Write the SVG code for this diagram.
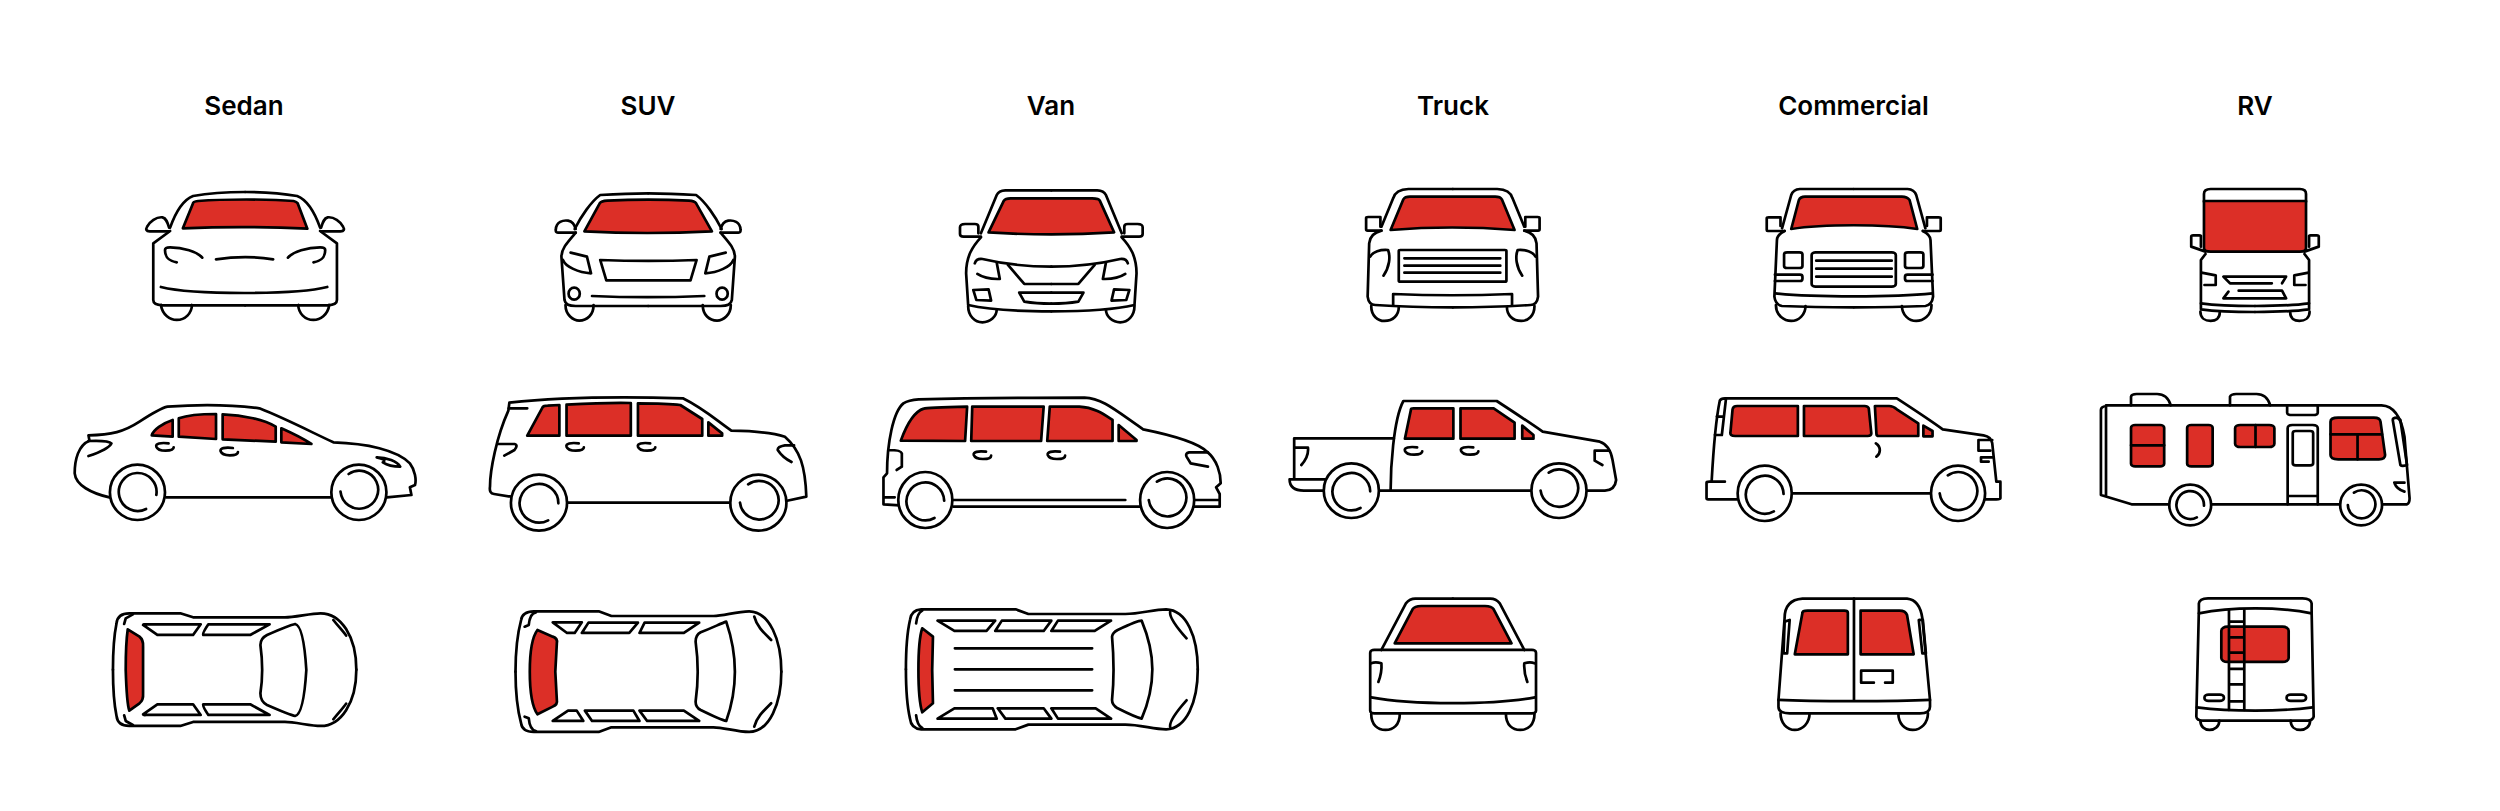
<svg xmlns="http://www.w3.org/2000/svg" width="2500" height="811" viewBox="0 0 2500 811">
<style>
text{font-family:Inter,"Liberation Sans",sans-serif;font-weight:600;font-size:26px;fill:#000;text-anchor:middle}
path,ellipse,rect,line{fill:none;stroke:#000;stroke-width:2.7;stroke-linejoin:round;stroke-linecap:round;vector-effect:non-scaling-stroke}
.r{fill:#dc2f27}
.w{fill:#fff}
</style>
<defs>
<path id="h" d="M24,0 C8,-3 -2,1 0,10 C2,18 8,22 18,22 C26,22 34,20 34,12"/>
</defs>
<rect x="0" y="0" width="2500" height="811" style="fill:#fff;stroke:none"/>
<g id="labels">
<text x="244" y="115">Sedan</text><text x="648" y="115">SUV</text><text x="1051" y="115">Van</text><text x="1453" y="115">Truck</text><text x="1853.500" y="115">Commercial</text><text x="2255" y="115">RV</text>
</g>

<g id="sedan-front" transform="translate(40,70) scale(.5102,.3333)">
<g id="sf"><path d="M237,705 C240,735 255,750 268,750 C285,750 297,730 298,705"/><path d="M255,483 L222,520 V690 Q222,705 240,706 H402"/><path d="M255,473 C265,430 280,390 300,378 C340,367 380,366 402,366"/><path d="M253,484 H215 Q205,483 210,470 C215,455 228,440 240,442 C248,445 250,458 253,473"/><path d="M268,577 C250,572 245,560 245,540 Q245,532 255,532 C280,532 308,545 318,563"/></g>
<use href="#sf" transform="matrix(-1 0 0 1 804 0)"/>
<path class="r" d="M280,475 L300,400 Q300,395 310,393 C360,387 450,387 497,393 Q503,395 505,400 L524,476 C440,470 360,470 280,475Z"/>
<path d="M345,568 C380,560 425,560 457,568M237,651 C300,675 500,675 563,651"/>
</g>

<g id="suv-front" transform="translate(40,70) scale(.5102,.3333)">
<g id="uf"><path d="M1030,705 C1030,735 1045,752 1057,752 C1072,752 1085,735 1085,705"/><path d="M1050,488 C1035,515 1022,535 1022,560 L1028,690 Q1030,708 1050,708 H1192"/><path d="M1048,477 C1060,440 1080,395 1098,375 C1150,370 1192,370 1192,370"/><path d="M1050,488 H1015 Q1010,488 1011,478 C1012,455 1025,450 1035,452 C1045,455 1048,465 1050,477"/><path d="M1040,548 L1072,560 L1080,610 C1055,608 1030,590 1025,570"/><ellipse cx="1047" cy="671" rx="11" ry="18"/></g>
<use href="#uf" transform="matrix(-1 0 0 1 2384 0)"/>
<path class="r" d="M1067,484 L1097,400 Q1100,393 1112,392 C1160,388 1225,388 1272,392 Q1283,393 1286,400 L1317,484 C1240,490 1140,490 1067,484Z"/>
<path d="M1098,570 C1150,573 1235,573 1287,570 L1275,631 H1110ZM1082,678 C1140,682 1240,682 1302,678"/>
</g>

<g id="van-front" transform="translate(860,70) scale(.5102,.3333)">
<g id="vf"><path d="M212,708 C212,738 225,757 240,757 C255,757 268,740 268,718"/><path d="M237,502 C220,530 208,560 208,610 L212,705 C260,722 320,724 375,724"/><path d="M237,490 L268,375 Q272,362 285,361 H375"/><path d="M237,500 H203 Q196,500 196,492 V472 Q196,462 206,462 H225 Q232,462 232,470 V490"/><path d="M225,580 Q228,565 240,567 C290,585 340,590 375,590"/><path d="M230,612 C240,622 255,628 274,627 L268,578"/><path d="M290,585 L322,642 H375"/><path d="M222,660 L252,658 L257,692 L228,690Z"/><path d="M375,668 H312 L322,695 C345,701 375,701 375,701"/></g>
<use href="#vf" transform="matrix(-1 0 0 1 750 0)"/>
<path class="r" d="M252,487 L282,392 Q285,385 295,385 H455 Q468,385 470,392 L498,487 C420,495 330,495 252,487Z"/>
</g>

<g id="truck-front" transform="translate(860,70) scale(.5102,.3333)">
<g id="tf"><path d="M1002,708 C1002,738 1015,753 1028,753 C1045,753 1056,735 1056,712"/><path d="M1022,482 Q1000,490 998,520 L995,680 Q997,705 1010,705 C1080,712 1162,712 1162,712"/><path d="M1022,470 L1045,385 Q1050,358 1075,357 H1162"/><path d="M1022,482 H995 Q992,482 992,478 V444 Q992,441 996,441 H1020 V470"/><path d="M1026,617 C1038,590 1040,560 1035,540 C1020,538 1005,545 1000,560"/></g>
<use href="#tf" transform="matrix(-1 0 0 1 2324 0)"/>
<path class="r" d="M1040,480 L1065,388 Q1068,380 1078,380 H1245 Q1255,380 1258,388 L1283,480 C1200,470 1120,470 1040,480Z"/>
<rect x="1056" y="540" width="211" height="95" rx="3"/>
<path d="M1067,565 H1255M1067,587 H1255M1067,608 H1255M1045,705 V672 C1120,677 1200,677 1278,672 V705"/>
</g>

<g id="commercial-front" transform="translate(1680,70) scale(.5102,.3333)">
<g id="cf"><path d="M188,705 C188,738 205,753 218,753 C232,753 246,735 246,708"/><path d="M205,483 Q190,495 190,510 L185,680 Q187,705 200,708 C260,712 340,712 340,712"/><path d="M200,475 L218,375 Q222,358 235,357 H340"/><path d="M205,483 H172 Q170,483 170,480 V445 Q170,442 174,442 H197 V468"/><rect x="204" y="547" width="36" height="47" rx="6"/><path d="M186,614 H235 Q240,614 240,620 V626 Q240,633 235,633 H186"/></g>
<use href="#cf" transform="matrix(-1 0 0 1 681 0)"/>
<path class="r" d="M218,477 L233,390 Q236,380 245,380 H435 Q445,380 450,390 L465,477 C400,462 280,462 218,477Z"/>
<rect x="258" y="547" width="165" height="103" rx="8"/>
<path d="M267,572 H415M267,596 H415M267,620 H415M187,670 C260,682 420,682 495,670"/>
</g>

<g id="rv-front" transform="translate(1680,70) scale(.5102,.3333)">
<g id="rf"><path d="M1020,725 C1020,745 1030,753 1040,753 C1050,753 1058,745 1058,727"/><path d="M1030,545 L1002,530 V500 Q1002,496 1006,496 H1018 Q1022,496 1021,500 V530"/><path d="M1030,552 L1021,570 V718 C1060,726 1127,726 1127,726"/><path d="M1021,700 C1060,708 1127,708 1127,708"/><path d="M1022,608 L1050,616 V645 H1028"/></g>
<use href="#rf" transform="matrix(-1 0 0 1 2254 0)"/>
<path d="M1027,395 V372 Q1027,357 1040,357 H1215 Q1227,357 1227,372 V395"/>
<path class="r" d="M1027,393 H1227 V535 Q1227,545 1215,545 H1040 Q1027,545 1027,535Z"/>
<path d="M1160,640 H1078 L1065,620 H1188 L1180,640M1095,662 H1180 L1188,685 H1065 L1075,665"/>
</g>

<g id="sedan-side" transform="translate(40,370) scale(.5102,.3333)">
<path d="M138,383 C100,370 70,345 68,310 C68,270 75,225 97,212 L95,196 C140,195 165,185 195,155 C215,135 235,115 250,110 C310,103 380,105 430,115 C480,145 530,185 575,217 C640,220 700,240 725,280 C735,300 738,330 735,345 L725,352 L728,375 L680,382M247,382 H570"/>
<ellipse class="w" cx="191" cy="367" rx="54" ry="83"/><ellipse class="w" cx="625" cy="367" rx="54" ry="83"/>
<path d="M228,375 A37,57 0 1 0 208,417M589,365 A37,57 0 1 0 605,312"/>
<path class="r" d="M219,196 C222,180 240,160 260,150 V200Z"/><path class="r" d="M272,145 C290,135 320,132 345,132 V207 L272,200Z"/><path class="r" d="M358,133 C400,135 440,150 462,170 V215 L358,208Z"/><path class="r" d="M473,175 C495,190 515,205 532,222 L473,217Z"/>
<use href="#h" x="228" y="220"/><use href="#h" x="354" y="234"/>
<path d="M95,213 C110,212 135,212 140,220 C135,235 115,248 95,258M660,262 C680,262 700,275 706,290 C695,290 680,285 672,277 C680,270 670,265 660,262Z"/>
</g>

<g id="suv-side" transform="translate(40,370) scale(.5102,.3333)">
<path d="M923,380 L890,372 Q880,370 882,350 C882,300 895,200 918,122 L920,98 C980,88 1100,78 1260,85 C1300,115 1325,150 1355,182 C1400,183 1440,190 1460,200 C1490,240 1500,290 1502,380 L1462,393M1035,398 H1352M918,115 H955"/>
<ellipse class="w" cx="978" cy="398" rx="55" ry="84"/><ellipse class="w" cx="1408" cy="398" rx="55" ry="84"/>
<path d="M1016,400 A38,58 0 1 0 996,451M1372,398 A38,58 0 1 0 1388,343"/>
<path class="r" d="M955,197 L985,112 Q987,107 995,107 L1018,105 V197Z"/><path class="r" d="M1032,104 C1080,100 1130,98 1158,99 V197 H1032Z"/><path class="r" d="M1172,100 C1200,100 1240,102 1255,105 L1298,147 V197 H1172Z"/><path class="r" d="M1310,157 L1337,190 V197 H1310Z"/>
<use href="#h" x="1032" y="220"/><use href="#h" x="1172" y="220"/>
<path d="M898,222 H930 Q938,225 930,240 L910,257M1478,226 H1460 Q1445,230 1446,240 Q1455,262 1473,276"/>
</g>

<g id="van-side" transform="translate(860,370) scale(.5102,.3333)">
<path d="M78,406 L46,403 V322 L53,310 C53,220 65,125 85,100 Q95,90 115,88 C220,84 350,83 440,83 C475,85 500,120 555,178 C610,195 660,215 680,245 C700,270 707,310 707,340 L698,352 L705,372 V410 H655M183,410 H550M183,390 H520M655,390 H703M48,382 H68M57,240 Q80,240 82,250 V290 L72,300"/>
<ellipse class="w" cx="128" cy="390" rx="53" ry="84"/><ellipse class="w" cx="602" cy="390" rx="53" ry="84"/>
<path d="M165,392 A37,57 0 1 0 146,444M566,390 A37,57 0 1 0 582,335"/>
<path class="r" d="M80,212 C90,170 105,125 125,116 Q130,113 210,110 L206,213Z"/><path class="r" d="M220,110 H360 L355,213 H218Z"/><path class="r" d="M372,110 H430 C460,112 480,135 495,150 V213 H367Z"/><path class="r" d="M507,165 L542,210 V213 H507Z"/>
<use href="#h" x="223" y="245"/><use href="#h" x="368" y="245"/>
<path d="M682,247 H645 Q637,250 640,260 L648,280 L682,290"/>
</g>

<g id="truck-side" transform="translate(860,370) scale(.5102,.3333)">
<path d="M1040,362 C1040,300 1045,150 1065,93 H1248 C1280,125 1310,155 1338,185 L1450,215 Q1470,225 1475,270 L1482,330 Q1480,360 1460,362 H1423M1015,362 H1317M1047,205 H851 V328 H912M851,328 H842 Q842,362 870,362 H910M852,233 H878 Q880,260 865,285M1466,242 H1440 V272 L1455,285"/>
<ellipse class="w" cx="963" cy="362" rx="54" ry="82"/><ellipse class="w" cx="1370" cy="362" rx="54" ry="82"/>
<path d="M1000,364 A37,56 0 1 0 981,414M1334,362 A37,56 0 1 0 1350,308"/>
<path class="r" d="M1068,206 L1080,118 Q1080,115 1085,115 H1163 V206Z"/><path class="r" d="M1177,115 H1242 L1283,158 V206 H1177Z"/><path class="r" d="M1298,167 L1320,195 V206 H1298Z"/>
<use href="#h" x="1068" y="232"/><use href="#h" x="1178" y="232"/>
</g>

<g id="commercial-side" transform="translate(1680,370) scale(.5102,.3333)">
<path d="M112,388 H55 Q52,388 52,385 V338 Q52,335 58,335 H62 C65,250 70,150 78,92 Q80,85 88,85 H425 C450,110 490,150 515,178 L595,196 Q610,200 612,220 L620,335 H628 V385 Q628,388 620,388 H598M62,335 H88M220,370 H492M90,88 L82,195 H68 M72,140 H86 M612,210 H585 V242 H608M612,262 H590 V275 H605M384,220 C394,230 394,250 385,260"/>
<ellipse class="w" cx="166" cy="370" rx="53" ry="83"/><ellipse class="w" cx="545" cy="370" rx="53" ry="83"/>
<path d="M203,372 A37,57 0 1 0 184,424M509,370 A37,57 0 1 0 525,316"/>
<path class="r" d="M112,108 H231 V198 H108 Q97,198 99,185 L103,118 Q104,108 112,108Z"/><path class="r" d="M243,108 H362 Q368,108 370,115 L375,190 Q375,198 368,198 H243Z"/><path class="r" d="M382,108 H410 Q418,108 425,118 L467,160 V198 H390 Q385,198 385,192Z"/><path class="r" d="M477,167 L495,183 V199 H477Z"/>
</g>

<g id="rv-side" transform="translate(1680,370) scale(.5102,.3333)">
<path d="M884,106 V80 Q885,72 895,72 H935 Q955,72 962,106M1078,106 V80 Q1080,72 1090,72 H1130 Q1150,72 1157,106"/>
<path d="M835,108 Q825,110 825,120 V375 L885,403 H960M1040,403 H1295M1375,403 H1425 Q1430,400 1430,385 L1420,200 Q1410,108 1375,106 H835M835,108 V378M1190,108 V128 Q1190,135 1200,135 H1240 Q1250,135 1250,128 V108"/>
<path d="M1191,403 V175 Q1191,165 1200,165 H1240 Q1250,165 1250,175 V403M1191,378 H1250"/>
<rect x="1201" y="183" width="40" height="103" rx="6"/>
<rect class="r" x="884" y="165" width="65" height="124" rx="8"/><rect class="r" x="994" y="165" width="50" height="124" rx="8"/><rect class="r" x="1088" y="165" width="77" height="66" rx="10"/>
<path class="r" d="M1275,155 Q1275,143 1290,143 H1360 Q1372,143 1373,155 L1382,255 Q1382,268 1370,268 H1290 Q1275,268 1275,255Z"/>
<path d="M884,226 H949M1128,165 V231M1275,193 H1376M1328,193 V268"/>
<path d="M1397,150 Q1397,143 1405,143 L1412,150 L1425,285 Q1415,290 1412,285ZM1400,338 H1420M1400,338 Q1405,358 1420,365"/>
<ellipse class="w" cx="1000" cy="405" rx="41" ry="61"/><ellipse class="w" cx="1335" cy="405" rx="41" ry="61"/>
<path d="M1027,407 A27,42 0 1 0 1013,442M1309,405 A27,42 0 1 0 1321,368"/>
</g>

<g id="sedan-top" transform="translate(40,370) scale(.5102,.3333)">
<g id="st"><path d="M143,899 C143,830 146,790 150,760 Q152,730 175,730 H275 L300,742 H480 C500,742 530,730 550,730 C590,730 620,800 620,899"/><path d="M182,733 L168,745 L165,762M575,750 C585,770 595,785 600,797"/><path d="M202,765 Q202,762 208,763 H315 L300,795 H230Z"/><path d="M330,763 H450 L412,795 H320 Q318,790 330,763Z"/></g>
<use href="#st" transform="matrix(1 0 0 -1 0 1798)"/>
<path class="r" d="M172,778 L195,800 Q203,810 202,830 V970 Q203,990 195,1000 L175,1022 Q170,1000 168,900 Q168,820 172,778Z"/>
<path d="M500,762 C510,765 518,800 522,900 C518,1000 510,1035 500,1038 Q490,1035 445,1005 Q432,995 432,970 C437,920 437,880 432,825 Q432,805 445,795 Q490,765 500,762Z"/>
</g>

<g id="suv-top" transform="translate(40,370) scale(.5102,.3333)">
<g id="ut"><path d="M932,905 C932,840 936,790 943,750 Q945,725 968,724 H1095 L1120,738 H1320 C1340,738 1365,724 1390,724 C1430,725 1453,810 1453,905"/><path d="M972,727 Q960,730 958,765 L950,770M1400,740 C1405,770 1420,790 1433,810"/></g>
<use href="#ut" transform="matrix(1 0 0 -1 0 1810)"/>
<path class="r" d="M975,780 L1005,800 Q1015,805 1013,820 L1010,905 L1013,990 Q1015,1003 1005,1010 L975,1033 Q960,1000 960,905 Q960,810 975,780Z"/>
<path d="M1005,757 H1062 L1048,789 H1033ZM1075,758 H1172 L1155,789 H1062ZM1185,758 H1292 L1262,789 H1175ZM1005,1053 L1035,1022 H1052 L1065,1053ZM1068,1022 H1163 L1175,1053 H1082ZM1175,1022 H1262 L1292,1053 H1190Z"/>
<path d="M1345,755 C1355,800 1362,850 1362,905 C1362,960 1355,1010 1345,1053 Q1335,1050 1295,1020 Q1285,1012 1285,995 C1290,940 1290,870 1285,815 Q1285,795 1295,787 C1320,772 1335,760 1345,755Z"/>
</g>

<g id="van-top" transform="translate(860,370) scale(.5102,.3333)">
<g id="vt"><path d="M90,898 C90,840 92,790 98,750 Q100,720 120,718 H305 L330,732 H520 C550,732 575,718 600,718 C640,720 662,800 662,898"/><path d="M122,722 Q112,730 110,760M608,725 Q605,745 640,805"/></g>
<use href="#vt" transform="matrix(1 0 0 -1 0 1796)"/>
<path class="r" d="M122,775 L143,800 Q140,900 143,1000 L122,1027 C112,980 112,820 122,775Z"/>
<path d="M152,752 H265 L248,783 H185ZM278,752 H375 L360,783 H265ZM388,752 H492 L460,783 H375ZM152,1046 L185,1015 H260 L268,1046ZM270,1015 H360 L375,1046 H285ZM375,1015 H462 L492,1046 H388ZM186,835 H455M186,898 H455M186,961 H455"/>
<path d="M552,752 C565,800 573,850 573,898 C573,950 565,1000 552,1046 Q540,1042 505,1015 Q494,1005 494,990 C498,930 498,870 494,800 Q495,788 505,780 C530,762 545,752 552,752Z"/>
</g>

<g id="truck-rear" transform="translate(860,370) scale(.5102,.3333)">
<g id="tr"><path d="M1022,840 L1070,700 Q1078,685 1090,686 H1162"/><path d="M1002,880 Q1010,875 1022,880 C1023,900 1020,920 1016,936"/><path d="M1002,1032 C1002,1065 1015,1080 1030,1080 C1045,1080 1058,1065 1058,1032"/></g>
<use href="#tr" transform="matrix(-1 0 0 1 2324 0)"/>
<path class="r" d="M1048,820 L1083,718 Q1087,708 1100,708 H1225 Q1238,708 1242,718 L1277,820Z"/>
<rect x="1000" y="840" width="325" height="190" rx="8"/>
<path d="M1002,982 C1080,1005 1245,1005 1323,982"/>
</g>

<g id="commercial-rear" transform="translate(1680,370) scale(.5102,.3333)">
<path d="M197,1030 C197,1060 210,1080 225,1080 C240,1080 254,1060 254,1030M428,1030 C428,1060 440,1080 456,1080 C472,1080 486,1060 486,1030"/>
<path d="M205,745 Q205,690 240,686 H445 Q470,690 475,745 L490,990 V1010 Q490,1030 470,1030 H215 Q193,1030 193,1010 V990Z"/>
<path d="M193,990 C260,995 420,995 490,990M341,686 V992"/>
<path class="r" d="M240,728 Q240,722 250,722 H322 Q329,722 329,728 V853 H225Z"/><path class="r" d="M354,722 H430 Q442,722 445,735 L458,853 H354Z"/>
<path d="M205,755 L215,750 L210,850 H203ZM468,750 H476 L482,850 H475ZM380,902 H355 V938 H380M362,902 H417 V938 H402"/>
</g>

<g id="rv-rear" transform="translate(1680,370) scale(.5102,.3333)">
<path d="M1020,1052 C1020,1070 1028,1080 1038,1080 C1048,1080 1057,1070 1057,1052M1197,1052 C1197,1070 1205,1080 1216,1080 C1226,1080 1235,1070 1235,1052"/>
<path d="M1017,720 V700 Q1018,686 1035,685 H1220 Q1237,686 1238,700 V725 L1242,1040 Q1240,1052 1230,1052 H1025 Q1013,1052 1012,1040Z"/>
<path d="M1017,730 C1080,710 1175,710 1238,730M1013,1012 C1080,1025 1175,1025 1240,1012"/>
<rect class="r" x="1061" y="770" width="132" height="106" rx="12"/>
<path d="M1076,720 V1020M1106,720 V1020M1076,755 H1106M1076,802 H1106M1076,848 H1106M1076,897 H1106M1076,943 H1106M1076,994 H1106"/>
<rect x="1028" y="974" width="38" height="19" rx="8"/><rect x="1189" y="974" width="38" height="19" rx="8"/>
</g>
</svg>
